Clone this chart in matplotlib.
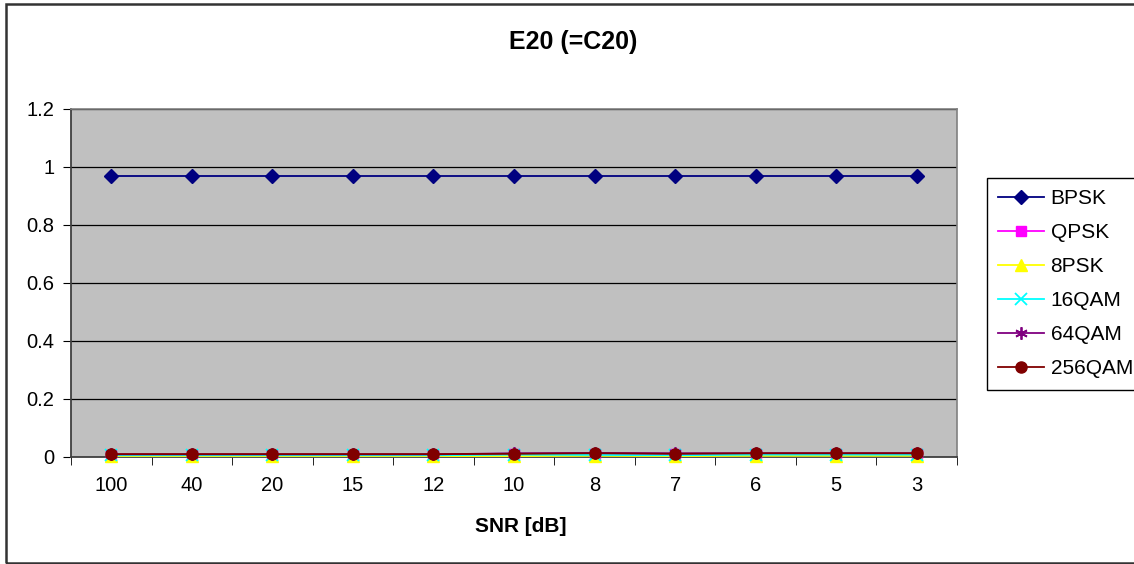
import matplotlib
matplotlib.use("Agg")
import matplotlib.pyplot as plt
from matplotlib.patches import Rectangle
import numpy as np

plt.rcParams['font.family'] = ['Liberation Sans', 'DejaVu Sans']

snr_labels = ["100", "40", "20", "15", "12", "10", "8", "7", "6", "5", "3"]
bpsk = [0.97, 0.97, 0.97, 0.97, 0.97, 0.97, 0.97, 0.97, 0.97, 0.97, 0.97]
qpsk = [0.008, 0.008, 0.008, 0.008, 0.008, 0.009, 0.010, 0.009, 0.011, 0.011, 0.011]
psk8 = [0.003, 0.003, 0.003, 0.003, 0.003, 0.003, 0.004, 0.003, 0.004, 0.004, 0.004]
qam16 = [0.006, 0.006, 0.006, 0.006, 0.006, 0.008, 0.007, 0.006, 0.008, 0.008, 0.008]
qam64 = [0.009, 0.009, 0.009, 0.009, 0.009, 0.013, 0.014, 0.013, 0.013, 0.013, 0.013]
qam256 = [0.010, 0.010, 0.010, 0.010, 0.010, 0.011, 0.013, 0.011, 0.013, 0.013, 0.013]

series = [
    ("BPSK", bpsk, "#000080", "D", 7),
    ("QPSK", qpsk, "#FF00FF", "s", 7),
    ("8PSK", psk8, "#FFFF00", "^", 8),
    ("16QAM", qam16, "#00FFFF", "x", 8),
    ("64QAM", qam64, "#800080", (6, 2, 0), 9),
    ("256QAM", qam256, "#800000", "o", 8),
]

W, H = 1134, 564
fig = plt.figure(figsize=(W / 100, H / 100), dpi=100)
ax = fig.add_axes([71 / W, 1 - 457 / H, (957 - 71) / W, (457 - 109) / H])
ax.set_facecolor("#C0C0C0")

x = np.arange(len(snr_labels))
for name, vals, col, mk, ms in series:
    kw = dict(color=col, marker=mk, markersize=ms, linewidth=1.3, label=name, clip_on=False, zorder=3)
    if mk in ("x", (6, 2, 0)):
        kw["markeredgewidth"] = 1.3
    ax.plot(x, vals, **kw)

ax.set_xlim(-0.5, len(snr_labels) - 0.5)
ax.set_ylim(0, 1.2)
ax.set_yticks(np.arange(0, 1.21, 0.2))
ax.set_yticklabels(["0", "0.2", "0.4", "0.6", "0.8", "1", "1.2"])
ax.yaxis.grid(True, color="black", linewidth=0.9)
ax.set_axisbelow(True)

ax.set_xticks(x)
ax.set_xticklabels(snr_labels)
ax.set_xticks(np.arange(-0.5, len(snr_labels), 1.0), minor=True)
ax.tick_params(axis="x", which="major", length=0, pad=14, labelsize=14.5)
ax.tick_params(axis="x", which="minor", length=6, direction="out", color="black")
ax.tick_params(axis="y", which="major", length=6, direction="out", labelsize=14.5, pad=6)

for s in ("top", "right"):
    ax.spines[s].set_color("#808080")
    ax.spines[s].set_linewidth(1.2)
for s in ("left", "bottom"):
    ax.spines[s].set_color("#404040")
    ax.spines[s].set_linewidth(1.3)

fig.text(573 / W, 1 - 42 / H, "E20 (=C20)", ha="center", va="center", fontsize=18, fontweight="bold")
fig.text(521 / W, 1 - 526 / H, "SNR [dB]", ha="center", va="center", fontsize=15, fontweight="bold")

leg = fig.legend(loc="upper left", bbox_to_anchor=(987 / W, 1 - 178 / H), fontsize=15,
                 frameon=True, fancybox=False, edgecolor="black", framealpha=1,
                 handlelength=2.2, handletextpad=0.3, labelspacing=0.72, borderpad=0.55,
                 borderaxespad=0)
leg.get_frame().set_linewidth(1.0)

fig.add_artist(Rectangle((6 / W, 1 - 563 / H), 1.2, (563 - 4) / H, transform=fig.transFigure,
                         fill=False, edgecolor="#333333", linewidth=1.8, clip_on=False))

fig.savefig("out.png", dpi=100)
